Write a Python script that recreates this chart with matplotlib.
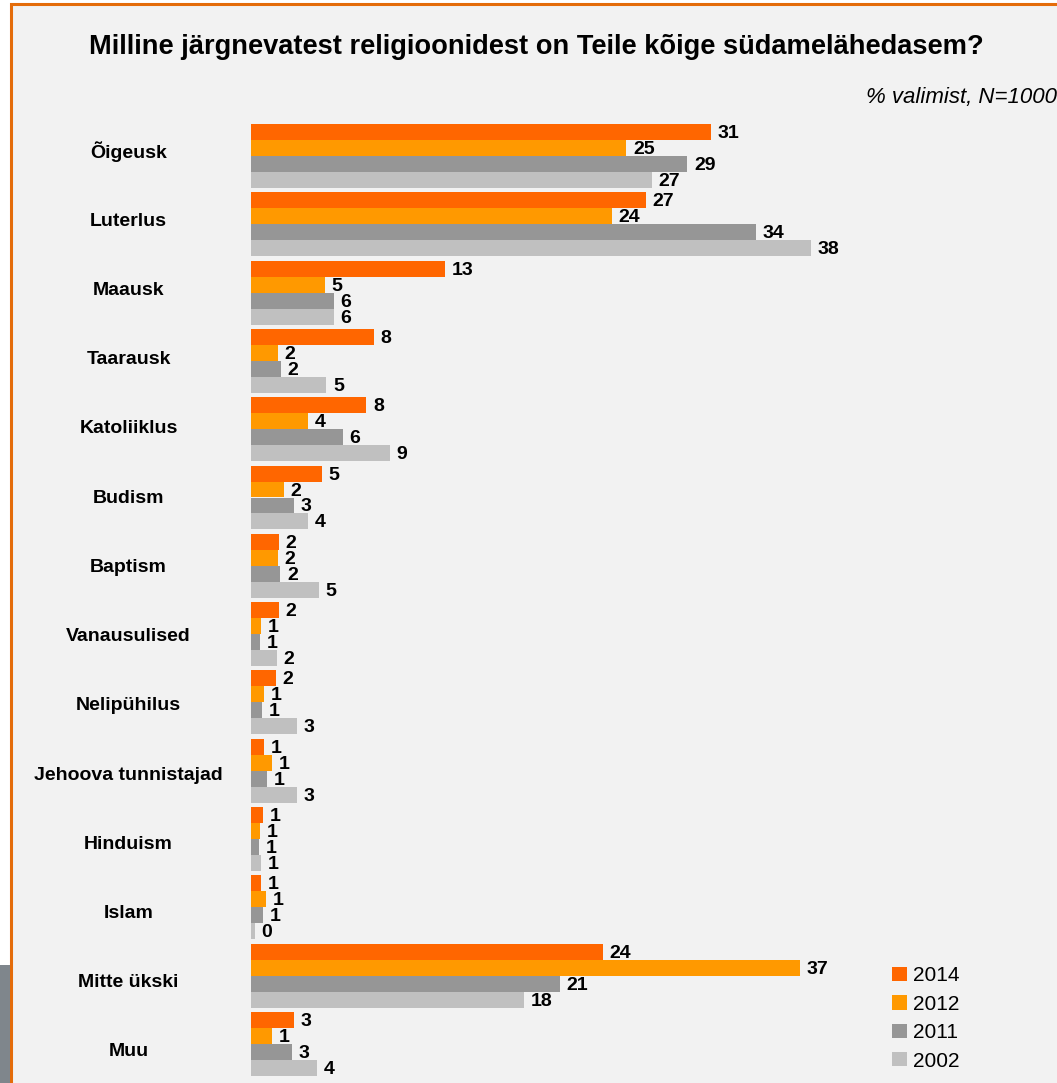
import matplotlib
matplotlib.use('Agg')
import matplotlib.pyplot as plt
from matplotlib.patches import Rectangle
import numpy as np

plt.rcParams['font.family'] = ['Liberation Sans', 'DejaVu Sans']

categories = ["Õigeusk", "Luterlus", "Maausk", "Taarausk", "Katoliiklus", "Budism",
              "Baptism", "Vanausulised", "Nelipühilus", "Jehoova tunnistajad",
              "Hinduism", "Islam", "Mitte ükski", "Muu"]
years = ["2014", "2012", "2011", "2002"]
v2014 = [31.0, 26.6, 13.1, 8.3, 7.8, 4.8, 1.9, 1.9, 1.7, 0.9, 0.85, 0.7, 23.7, 2.9]
v2012 = [25.3, 24.3, 5.0, 1.85, 3.9, 2.25, 1.85, 0.7, 0.9, 1.45, 0.65, 1.05, 37.0, 1.45]
v2011 = [29.4, 34.0, 5.6, 2.05, 6.2, 2.9, 2.0, 0.65, 0.8, 1.1, 0.55, 0.85, 20.8, 2.8]
v2002 = [27.0, 37.7, 5.6, 5.1, 9.4, 3.9, 4.6, 1.75, 3.1, 3.1, 0.7, 0.3, 18.4, 4.45]
series = [v2014, v2012, v2011, v2002]
colors = ["#FF6600", "#FF9900", "#969696", "#C0C0C0"]

W, H = 1057, 1083
fig = plt.figure(figsize=(W / 100, H / 100), dpi=100, facecolor="white")

# frame: grey panel with orange border, a bit of something grey at bottom left
fig.patches.append(Rectangle((11 / W, -0.05), 1.1, (H - 4) / H + 0.05, transform=fig.transFigure,
                             facecolor="#F2F2F2", edgecolor="#E46C0A", lw=2.2, zorder=-5))
fig.patches.append(Rectangle((0, 0), 10 / W, (H - 965) / H, transform=fig.transFigure,
                             facecolor="#7F868C", edgecolor="none", zorder=-5))

# axes placement (pixels): zero at x=250, 14.86 px per unit, group step 68.3 px
x0, px_unit = 250.5, 14.86
step, top_c = 68.3, 156
ax_top, ax_bot = 115, H
ax = fig.add_axes([x0 / W, 0, (1000 - x0) / W, (ax_bot - ax_top) / H])
ax.set_xlim(0, (1000 - x0) / px_unit)
ax.set_ylim((ax_bot - top_c) / step, (ax_top - top_c) / step)
ax.axis("off")

n = len(categories)
y = np.arange(n)
bh = 0.234
for k, (vals, c) in enumerate(zip(series, colors)):
    pos = y + (k - 1.5) * bh
    ax.barh(pos, vals, height=bh, color=c, label=years[k])
    for p, v in zip(pos, vals):
        ax.text(v + 0.45, p + 0.022, f"{v:.0f}", va="center", ha="left",
                fontsize=14, fontweight="bold", color="black")

# category labels sit on a slightly wider grid than the groups
for i, cat in enumerate(categories):
    ly = (152 + i * 69.23 - top_c) / step
    ax.text(-122 / px_unit, ly, cat, ha="center", va="center",
            fontsize=14, fontweight="bold", clip_on=False)

fig.text(536 / W, 1 - 47 / H, "Milline järgnevatest religioonidest on Teile kõige südamelähedasem?",
         ha="center", va="center", fontsize=19.6, fontweight="bold")
fig.text(866 / W, 1 - 98 / H, "% valimist, N=1000", ha="left", va="center",
         fontsize=16, style="italic")

leg = fig.legend(loc="upper left", bbox_to_anchor=(882 / W, 1 - 956 / H), frameon=False,
                 fontsize=15, handlelength=0.68, handleheight=0.68, handletextpad=0.3,
                 labelspacing=0.45, borderpad=0)

fig.savefig("out.png", dpi=100, facecolor=fig.get_facecolor())
